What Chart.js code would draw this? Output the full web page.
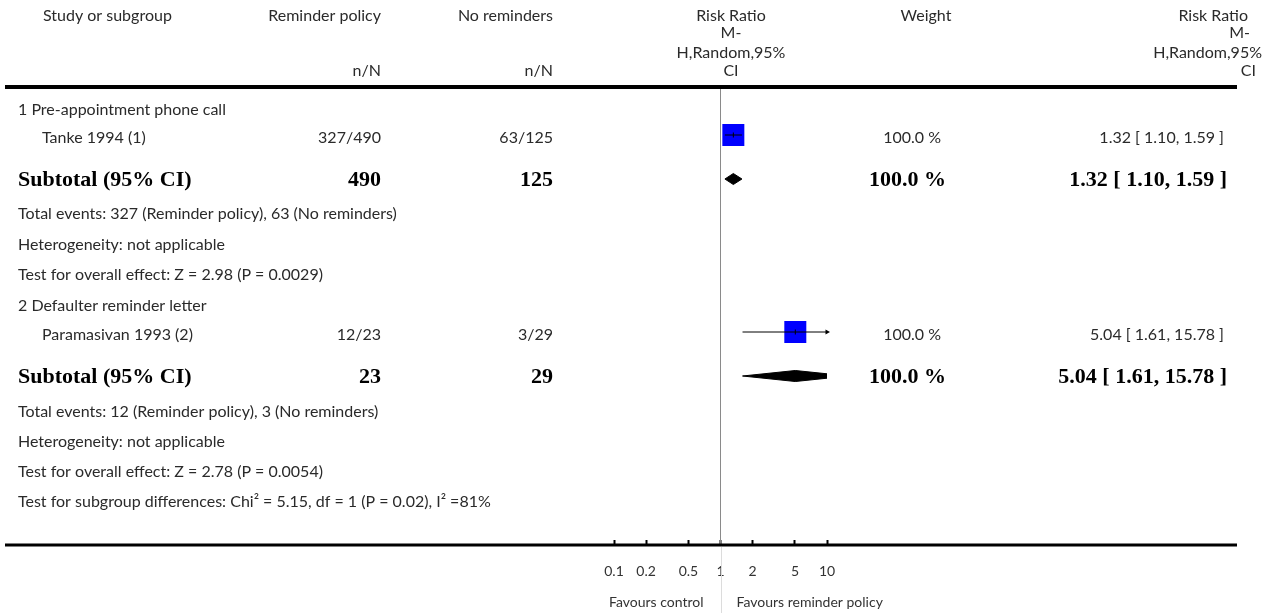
<!DOCTYPE html>
<html>
<head>
<meta charset="utf-8">
<script src="https://cdn.jsdelivr.net/npm/chart.js@4.4.1/dist/chart.umd.min.js"></script>
<style>
  html, body { margin: 0; padding: 0; background: #fff; }
  #wrap { width: 1266px; height: 613px; }
</style>
</head>
<body>
<div id="wrap"><canvas id="forest" width="1266" height="613"></canvas></div>
<script>
// ---------- data ----------
const subgroupNames = ['1 Pre-appointment phone call', '2 Defaulter reminder letter'];
const studyNames = ['Tanke 1994 (1)', 'Paramasivan 1993 (2)'];
const reminderEvents = [327, 12];
const reminderTotals = [490, 23];
const controlEvents = [63, 3];
const controlTotals = [125, 29];
const studyRR = [1.32, 5.04];
const studyLower = [1.10, 1.61];
const studyUpper = [1.59, 15.78];
const studyWeights = [100.0, 100.0];
const subtotalRR = [1.32, 5.04];
const subtotalLower = [1.10, 1.61];
const subtotalUpper = [1.59, 15.78];
const subtotalWeights = [100.0, 100.0];
const heterogeneityText = ['not applicable', 'not applicable'];
const overallZ = ['2.98', '2.78'];
const overallP = ['0.0029', '0.0054'];
const subgroupTest = { chi2: '5.15', df: '1', p: '0.02', i2: '81' };
const axisTicks = [0.1, 0.2, 0.5, 1, 2, 5, 10];
const tickLabels = ['0.1', '0.2', '0.5', '1', '2', '5', '10'];

// ---------- layout (vertical positions of table rows) ----------
const ROWS = [
  { group: 110, study: 135, subtotal: 179, events: 214, het: 245, test: 275 },
  { group: 306, study: 332, subtotal: 376, events: 412, het: 442, test: 472 }
];
const LAYOUT = {
  head1: 16, head2: 33, head3: 53, head4: 71,
  topRule: 87, diffRow: 502, axis: 545, favours: 602,
  ruleLeft: 5, ruleRight: 1237,
  colStudy: 18, colIndent: 42, colHeadStudy: 43,
  colRem: 381, colNo: 553, colWeight: 941, colRR: 1224,
  headRRmid: 731, headWeight: 926,
  squareSide: 22, diamondHalf: 5.5
};
const FONT_REG = '16px Lato';
const FONT_BOLD = 'bold 22px "Liberation Serif"';
const FONT_SMALL = '14px Lato';
const TEXT = '#2a2a2a';

const AXIS_MAX = axisTicks[axisTicks.length - 1];
const fmt2 = v => v.toFixed(2);
const ciText = (r, l, u) => `${fmt2(r)} [ ${fmt2(l)}, ${fmt2(u)} ]`;

// ---------- datasets ----------
const datasets = [];

// line of no effect
datasets.push({
  type: 'line', order: 9,
  data: [{ x: 1, y: LAYOUT.topRule + 2 }, { x: 1, y: LAYOUT.axis }],
  borderColor: '#8a8a8a', borderWidth: 1, pointRadius: 0
});

studyNames.forEach((name, i) => {
  const y = ROWS[i].study;
  // confidence interval
  datasets.push({
    type: 'line', order: 0,
    data: [{ x: studyLower[i], y }, { x: studyUpper[i], y }],
    borderColor: '#000', borderWidth: 1, pointRadius: 0
  });
  // small mark at the point estimate
  datasets.push({
    type: 'scatter', order: 0,
    data: [{ x: studyRR[i], y }],
    pointStyle: 'line', rotation: 90, pointRadius: 2.5,
    borderColor: '#000', borderWidth: 1
  });
  // arrow where the interval runs past the axis
  if (studyUpper[i] > AXIS_MAX) {
    datasets.push({
      type: 'scatter', order: 0, clip: false,
      data: [{ x: AXIS_MAX, y }],
      pointStyle: 'triangle', rotation: 90, pointRadius: 3,
      backgroundColor: '#000', borderColor: '#000', borderWidth: 0
    });
  }
  // weighted square
  const side = LAYOUT.squareSide * Math.sqrt(studyWeights[i] / 100);
  datasets.push({
    type: 'scatter', order: 5,
    data: [{ x: studyRR[i], y }],
    pointStyle: 'rect', pointRadius: side / 2 / Math.SQRT1_2,
    backgroundColor: '#0000ff', borderWidth: 0
  });
});

// pooled diamonds: upper and lower halves, filled between
subtotalRR.forEach((rr, i) => {
  const y = ROWS[i].subtotal;
  const h = LAYOUT.diamondHalf;
  datasets.push({
    type: 'line', order: 3,
    data: [{ x: subtotalLower[i], y }, { x: rr, y: y - h }, { x: subtotalUpper[i], y }],
    borderColor: '#000', borderWidth: 1, pointRadius: 0, fill: false
  });
  datasets.push({
    type: 'line', order: 3,
    data: [{ x: subtotalLower[i], y }, { x: rr, y: y + h }, { x: subtotalUpper[i], y }],
    borderColor: '#000', borderWidth: 1, pointRadius: 0,
    backgroundColor: '#000', fill: '-1'
  });
});

// ---------- table text and rules ----------
const tablePlugin = {
  id: 'forestTable',
  afterDraw(chart) {
    const ctx = chart.ctx;
    const xs = chart.scales.x;
    const put = (s, x, y, align, font, color) => {
      ctx.font = font; ctx.fillStyle = color || TEXT;
      ctx.textAlign = align; ctx.textBaseline = 'middle';
      ctx.fillText(s, x, y);
    };
    ctx.save();

    // header
    put('Study or subgroup', LAYOUT.colHeadStudy, LAYOUT.head1, 'left', FONT_REG);
    put('Reminder policy', LAYOUT.colRem, LAYOUT.head1, 'right', FONT_REG);
    put('No reminders', LAYOUT.colNo, LAYOUT.head1, 'right', FONT_REG);
    put('n/N', LAYOUT.colRem, LAYOUT.head4, 'right', FONT_REG);
    put('n/N', LAYOUT.colNo, LAYOUT.head4, 'right', FONT_REG);
    put('Risk Ratio', LAYOUT.headRRmid, LAYOUT.head1, 'center', FONT_REG);
    put('M-', LAYOUT.headRRmid, LAYOUT.head2, 'center', FONT_REG);
    put('H,Random,95%', LAYOUT.headRRmid, LAYOUT.head3, 'center', FONT_REG);
    put('CI', LAYOUT.headRRmid, LAYOUT.head4, 'center', FONT_REG);
    put('Weight', LAYOUT.headWeight, LAYOUT.head1, 'center', FONT_REG);
    put('Risk Ratio', LAYOUT.colRR + 24, LAYOUT.head1, 'right', FONT_REG);
    put('M-', LAYOUT.colRR + 26, LAYOUT.head2, 'right', FONT_REG);
    put('H,Random,95%', LAYOUT.colRR + 38, LAYOUT.head3, 'right', FONT_REG);
    put('CI', LAYOUT.colRR + 32, LAYOUT.head4, 'right', FONT_REG);

    // rules
    ctx.fillStyle = '#000';
    ctx.fillRect(LAYOUT.ruleLeft, LAYOUT.topRule - 2, LAYOUT.ruleRight - LAYOUT.ruleLeft, 4);
    ctx.fillRect(LAYOUT.ruleLeft, LAYOUT.axis - 1.5, LAYOUT.ruleRight - LAYOUT.ruleLeft, 3);

    // body
    subgroupNames.forEach((g, i) => {
      const r = ROWS[i];
      const ys = r.study + 3;
      put(g, LAYOUT.colStudy, r.group, 'left', FONT_REG);
      put(studyNames[i], LAYOUT.colIndent, ys, 'left', FONT_REG);
      put(`${reminderEvents[i]}/${reminderTotals[i]}`, LAYOUT.colRem, ys, 'right', FONT_REG);
      put(`${controlEvents[i]}/${controlTotals[i]}`, LAYOUT.colNo, ys, 'right', FONT_REG);
      put(`${studyWeights[i].toFixed(1)} %`, LAYOUT.colWeight, ys, 'right', FONT_REG);
      put(ciText(studyRR[i], studyLower[i], studyUpper[i]), LAYOUT.colRR, ys, 'right', FONT_REG);

      const yb = r.subtotal + 1;
      put('Subtotal (95% CI)', LAYOUT.colStudy, yb, 'left', FONT_BOLD, '#000');
      put(String(reminderTotals[i]), LAYOUT.colRem, yb, 'right', FONT_BOLD, '#000');
      put(String(controlTotals[i]), LAYOUT.colNo, yb, 'right', FONT_BOLD, '#000');
      put(`${subtotalWeights[i].toFixed(1)} %`, LAYOUT.colWeight + 5, yb, 'right', FONT_BOLD, '#000');
      put(ciText(subtotalRR[i], subtotalLower[i], subtotalUpper[i]), LAYOUT.colRR + 3, yb, 'right', FONT_BOLD, '#000');

      put(`Total events: ${reminderEvents[i]} (Reminder policy), ${controlEvents[i]} (No reminders)`, LAYOUT.colStudy, r.events, 'left', FONT_REG);
      put(`Heterogeneity: ${heterogeneityText[i]}`, LAYOUT.colStudy, r.het, 'left', FONT_REG);
      put(`Test for overall effect: Z = ${overallZ[i]} (P = ${overallP[i]})`, LAYOUT.colStudy, r.test, 'left', FONT_REG);
    });
    put(`Test for subgroup differences: Chi\u00b2 = ${subgroupTest.chi2}, df = ${subgroupTest.df} (P = ${subgroupTest.p}), I\u00b2 =${subgroupTest.i2}%`,
        LAYOUT.colStudy, LAYOUT.diffRow, 'left', FONT_REG);

    // below the axis
    const x1 = xs.getPixelForValue(1);
    ctx.fillStyle = '#dcdcdc';
    ctx.fillRect(Math.round(x1), LAYOUT.axis + 2, 1, chart.height - LAYOUT.axis - 2);
    put('Favours control', x1 - 17, LAYOUT.favours, 'right', FONT_SMALL, '#333');
    put('Favours reminder policy', x1 + 16, LAYOUT.favours, 'left', FONT_SMALL, '#333');
    ctx.restore();
  }
};

new Chart(document.getElementById('forest'), {
  type: 'scatter',
  data: { datasets },
  options: {
    responsive: false,
    animation: false,
    events: [],
    layout: { autoPadding: false, padding: { left: 614, right: 439, top: 0, bottom: 0 } },
    plugins: { legend: { display: false }, tooltip: { enabled: false } },
    scales: {
      x: {
        type: 'logarithmic', position: 'bottom', min: 0.1, max: AXIS_MAX,
        afterBuildTicks: s => { s.ticks = axisTicks.map(v => ({ value: v })); },
        afterFit: s => { s.height = 613 - LAYOUT.axis; },
        ticks: {
          autoSkip: false, maxRotation: 0, padding: 23, color: '#333',
          font: { family: 'Lato', size: 14 },
          callback: v => tickLabels[axisTicks.indexOf(v)]
        },
        grid: { drawOnChartArea: false, drawTicks: true, tickLength: -5, tickWidth: 2, tickColor: '#000' },
        border: { display: false }
      },
      y: { type: 'linear', min: 0, max: LAYOUT.axis, reverse: true, display: false }
    }
  },
  plugins: [tablePlugin]
});
</script>
</body>
</html>
